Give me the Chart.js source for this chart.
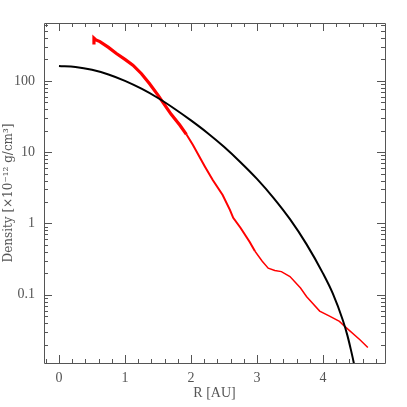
<!DOCTYPE html>
<html><head><meta charset="utf-8">
<script src="https://cdn.jsdelivr.net/npm/chart.js@4/dist/chart.umd.min.js"></script>
<style>html,body{margin:0;padding:0;background:#fff}#wrap{width:407px;height:407px}</style>
</head><body><div id="wrap"><canvas id="c" width="407" height="407"></canvas></div>
<script>
// Black model curve
const blackR = [0,0.25,0.5,0.75,1.0,1.25,1.5,1.75,2.0,2.25,2.5,2.75,3.0,3.25,3.5,3.75,4.0,4.15,4.30,4.37,4.42,4.47,4.52];
const blackDensity = [162.2,156.7,142.9,123.0,100,77.6,57.5,40.7,27.9,18.6,11.9,7.24,4.22,2.29,1.148,0.513,0.1995,0.1035,0.0442,0.0269,0.0174,0.0107,0.00562];
// Red measured curve
const redR = [0.53,0.53,0.56,0.62,0.75,0.87,1.00,1.12,1.25,1.37,1.50,1.58,1.70,1.83,1.93,2.03,2.21,2.33,2.48,2.59,2.64,2.75,2.89,2.97,3.08,3.17,3.27,3.37,3.50,3.66,3.75,3.95,4.10,4.25,4.33,4.56,4.68];
const redDensity = [324,398,376,355,295,242,200,166,126,92.0,63.1,49.0,33.9,24.0,17.8,12.6,6.31,4.07,2.51,1.55,1.20,0.871,0.550,0.407,0.295,0.236,0.219,0.211,0.180,0.124,0.0944,0.0589,0.0501,0.0422,0.0359,0.0234,0.0182];
// Axes
const xTicks = [0,1,2,3,4];
const yTicks = [0.1,1,10,100];
const xRange = [-0.227, 4.94];
const yRange = [0.01102, 648.6];
const xTitle = 'R [AU]';
const yTitle = 'Density [×10⁻¹² g/cm³]';

const GRAY = '#555';
const tickFont = {family:'Liberation Serif', size:14};

const framePlugin = {
  id:'frame',
  afterDatasetsDraw(chart){
    const {ctx, chartArea:a, scales:{x,y}} = chart;
    ctx.save();
    ctx.strokeStyle = GRAY; ctx.lineWidth = 1;
    ctx.beginPath();
    ctx.rect(Math.round(a.left)+0.5, Math.round(a.top)+0.5, Math.round(a.right-a.left), Math.round(a.bottom-a.top));
    ctx.stroke();
    ctx.beginPath();
    for (let i=-1; i<=24; i++){
      const v = i*0.2;
      if (v < xRange[0] || v > xRange[1]) continue;
      const px = Math.round(x.getPixelForValue(v))+0.5;
      const len = (i%5===0) ? 8 : 4;
      ctx.moveTo(px, a.bottom); ctx.lineTo(px, a.bottom-len);
      ctx.moveTo(px, a.top); ctx.lineTo(px, a.top+len);
    }
    for (let d=-2; d<=2; d++){
      for (let m=1; m<=9; m++){
        const v = m*Math.pow(10,d);
        if (v < yRange[0] || v > yRange[1]) continue;
        const py = Math.round(y.getPixelForValue(v))+0.5;
        const len = (m===1) ? 8 : 4;
        ctx.moveTo(a.left, py); ctx.lineTo(a.left+len, py);
        ctx.moveTo(a.right, py); ctx.lineTo(a.right-len, py);
      }
    }
    ctx.stroke();
    ctx.restore();
  }
};

new Chart(document.getElementById('c'), {
  type:'line',
  data:{
    datasets:[
      {data: blackR.map((r,i)=>({x:r,y:blackDensity[i]})), borderColor:'#000', borderWidth:2, pointRadius:0, cubicInterpolationMode:'monotone'},
      {data: redR.map((r,i)=>({x:r,y:redDensity[i]})), borderColor:'#ff0000', borderWidth:2, pointRadius:0, tension:0,
       segment:{borderWidth: c => c.p0.parsed.x < 1.9 ? 3.2 : (c.p0.parsed.x < 2.9 ? 2 : 1.5)}}
    ]
  },
  options:{
    responsive:false, animation:false, devicePixelRatio:1,
    layout:{padding:{top:23,right:22,left:0,bottom:0}},
    plugins:{legend:{display:false}, tooltip:{enabled:false}},
    scales:{
      x:{type:'linear', min:xRange[0], max:xRange[1],
         grid:{display:false, drawTicks:false}, border:{display:false},
         afterBuildTicks: s => { s.ticks = xTicks.map(v=>({value:v})); },
         afterFit: s => { s.height = 44; },
         ticks:{font:tickFont, color:GRAY, padding:7, autoSkip:false, maxRotation:0, callback:v=>String(v)},
         title:{display:true, text:xTitle, font:{family:'Liberation Serif', size:14}, color:GRAY, padding:{top:0,bottom:5}}},
      y:{type:'logarithmic', min:yRange[0], max:yRange[1],
         grid:{display:false, drawTicks:false}, border:{display:false},
         afterBuildTicks: s => { s.ticks = yTicks.map(v=>({value:v})); },
         afterFit: s => { s.width = 44; },
         ticks:{font:tickFont, color:GRAY, padding:9, autoSkip:false, callback:v=>String(v)},
         title:{display:true, text:yTitle, font:{family:'DejaVu Serif', size:12}, color:GRAY, padding:{top:2,bottom:0}}}
    }
  },
  plugins:[framePlugin]
});
</script></body></html>
